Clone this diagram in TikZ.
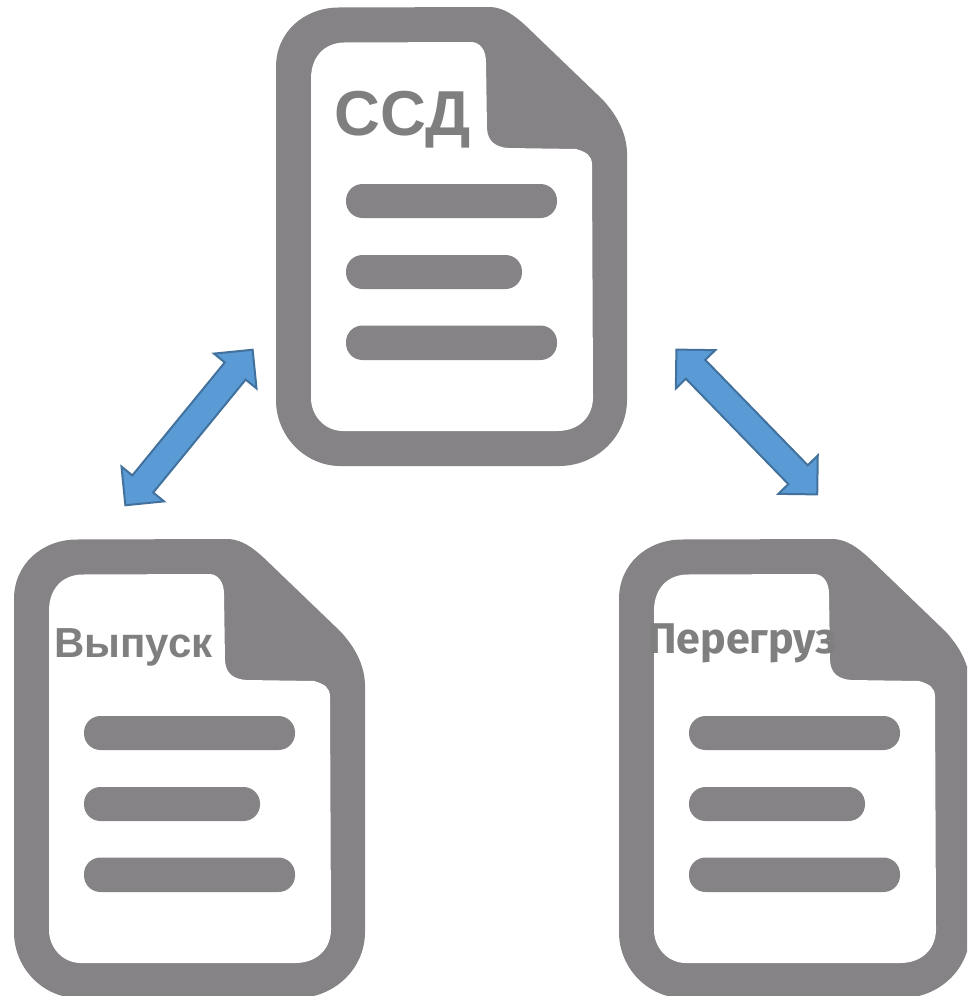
\documentclass[tikz,border=0pt]{standalone}
\usepackage{fontspec}
\usetikzlibrary{shapes.arrows}
\setmainfont{Liberation Sans}
\newfontfamily\dinfont{Fira Sans}
\definecolor{icongrey}{HTML}{858385}
\definecolor{labelgrey}{HTML}{7F7F7F}
\definecolor{arrowfill}{HTML}{5B9BD5}
\definecolor{arrowline}{HTML}{41719C}
\tikzset{
  docbody/.style={fill=icongrey,draw=none},
  docinner/.style={fill=white,draw=none},
  docbar/.style={fill=icongrey,draw=none,rounded corners=16.5pt},
  dblarrow/.style={shape=double arrow,draw=arrowline,fill=arrowfill,line width=2pt,
    minimum height=201pt,minimum width=53pt,double arrow head extend=14pt,
    double arrow tip angle=90,inner xsep=0pt,inner ysep=12.5pt,outer sep=0pt},
  doclabel/.style={text=labelgrey,inner sep=0pt,anchor=base west}
}
\newcommand{\docicon}[2]{%
\begin{scope}[shift={(#1,#2)}]
  \fill[docbody] (0,60) .. controls (0,25) and (28,1) .. (62,0.5) -- (215,0)
    .. controls (228,1) and (238,8) .. (250,19) -- (327,93)
    .. controls (335,102) and (350,120) .. (351,145) -- (351,393)
    .. controls (351,430) and (320,459) .. (283,459) -- (64,459)
    .. controls (30,459) and (0,430) .. (0,393) -- cycle;
  \fill[docinner] (35,72) .. controls (35,50) and (48,36) .. (68,35.5) -- (195,35)
    .. controls (204,35) and (210,43) .. (210,55) -- (211,122)
    .. controls (212,135) and (220,140) .. (232,141) -- (300,142)
    .. controls (310,145) and (316,148) .. (316,158) -- (317,390)
    .. controls (317,410) and (303,424) .. (281,424) -- (67,424)
    .. controls (48,424) and (35,408) .. (35,391) -- cycle;
  \fill[docbar] (70,177) rectangle (281,211);
  \fill[docbar] (70,248) rectangle (246,282);
  \fill[docbar] (70,318.5) rectangle (281,353);
\end{scope}}
\begin{document}
\begin{tikzpicture}[x=1pt,y=-1pt]
\useasboundingbox (0,0) rectangle (967,996);
\clip (0,0) rectangle (967,996);
\docicon{276}{7}
\docicon{14}{539}
\docicon{619}{539}
\node[doclabel,font=\bfseries\fontsize{63.5}{63.5}\selectfont] (ssd) at (334.5,135.5) {ССД};
\node[doclabel,font=\bfseries\fontsize{42}{42}\selectfont] (vypusk) at (54,657) {Выпуск};
\node[doclabel,font=\dinfont\bfseries\fontsize{43}{43}\selectfont] (pereg) at (648,653) {Перегруз};
\node[dblarrow,rotate=50.7] (a1) at (189,427.5) {};
\node[dblarrow,rotate=-45.8,minimum height=202pt] (a2) at (746.8,422) {};
\end{tikzpicture}
\end{document}
